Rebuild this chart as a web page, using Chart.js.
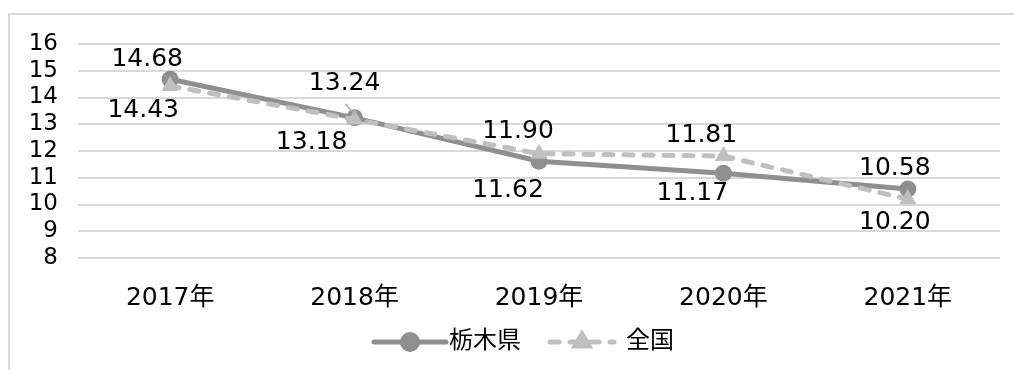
<!DOCTYPE html>
<html lang="ja">
<head>
<meta charset="utf-8">
<script src="https://cdn.jsdelivr.net/npm/chart.js@4/dist/chart.umd.min.js"></script>
<style>
  html, body { margin: 0; padding: 0; background: #fff; }
  #wrap { position: relative; width: 1014px; height: 370px; }
</style>
</head>
<body>
<div id="wrap"><canvas id="trendChart" width="1014" height="370"></canvas></div>
<script>
// 年ごとの値
const years = ['2017年', '2018年', '2019年', '2020年', '2021年'];
const tochigi = [14.68, 13.24, 11.62, 11.17, 10.58];
const zenkoku = [14.43, 13.18, 11.90, 11.81, 10.20];
const seriesNames = ['栃木県', '全国'];

const yMin = 8, yMax = 16;

const FONT = '"DejaVu Sans", "Noto Sans CJK JP", sans-serif';
const darkGray = '#8f8f8f';
const lightGray = '#bfbfbf';

// ラベル位置の微調整 [上ラベルdx, 上ラベルdy, 下ラベルdx, 下ラベルdy]
const labelNudge = [
  [-23, -20, -27, 25],
  [-10, -34, -43, 23],
  [-21, -22, -31, 29],
  [-22, -21, -31, 20],
  [-13, -20, -13, 23]
];

// 外枠
const frame = {
  id: 'frame',
  beforeDraw(chart) {
    const c = chart.ctx;
    c.save();
    c.fillStyle = '#fff';
    c.fillRect(0, 0, chart.width, chart.height);
    c.strokeStyle = '#d9d9d9';
    c.lineWidth = 2;
    c.strokeRect(9, 14, chart.width + 20, chart.height + 20);
    c.restore();
  }
};

// 値ラベル：同じ年で大きい方を上、小さい方を下に
const valueLabels = {
  id: 'valueLabels',
  afterDatasetsDraw(chart) {
    const c = chart.ctx;
    const metaA = chart.getDatasetMeta(0);
    const metaB = chart.getDatasetMeta(1);
    c.save();
    c.font = '25px ' + FONT;
    c.fillStyle = '#000';
    c.textAlign = 'center';
    c.textBaseline = 'middle';
    years.forEach((y, i) => {
      const a = metaA.data[i], b = metaB.data[i];
      const aHigh = tochigi[i] >= zenkoku[i];
      const hi = aHigh ? a : b, lo = aHigh ? b : a;
      const hiVal = aHigh ? tochigi[i] : zenkoku[i];
      const loVal = aHigh ? zenkoku[i] : tochigi[i];
      const n = labelNudge[i];
      const hx = hi.x + n[0], hy = hi.y + n[1];
      // 離れたラベルには引き出し線
      if (hi.y - hy > 30) {
        c.strokeStyle = '#a6a6a6';
        c.lineWidth = 1.5;
        c.beginPath();
        c.moveTo(hi.x - 9, hy + 20);
        c.lineTo(hi.x, hi.y - 3);
        c.stroke();
      }
      c.fillText(hiVal.toFixed(2), hx, hy);
      c.fillText(loVal.toFixed(2), lo.x + n[2], lo.y + n[3]);
    });
    c.restore();
  }
};

// 凡例（線＋マーカー）
const lineLegend = {
  id: 'lineLegend',
  afterDraw(chart) {
    const c = chart.ctx;
    const ly = 342;
    const items = [
      { x: 374, len: 72, gap: 3, color: darkGray, dash: [], marker: 'circle', text: seriesNames[0] },
      { x: 550, len: 64, gap: 12, color: lightGray, dash: [9, 11], marker: 'triangle', text: seriesNames[1] }
    ];
    c.save();
    c.font = '24px ' + FONT;
    c.textBaseline = 'middle';
    items.forEach(it => {
      c.strokeStyle = it.color;
      c.lineWidth = 5;
      c.lineCap = 'round';
      c.setLineDash(it.dash);
      c.beginPath();
      c.moveTo(it.x, ly);
      c.lineTo(it.x + it.len, ly);
      c.stroke();
      c.setLineDash([]);
      Chart.helpers.drawPoint(c, {
        pointStyle: it.marker, radius: it.marker === 'circle' ? 7.5 : 8, rotation: 0,
        borderWidth: 1
      }, it.x + it.len / 2, ly);
      c.fillStyle = it.color;
      c.fill();
      c.fillStyle = '#000';
      c.fillText(it.text, it.x + it.len + it.gap, ly);
    });
    c.restore();
  }
};

new Chart(document.getElementById('trendChart'), {
  type: 'line',
  data: {
    labels: years,
    datasets: [
      {
        label: seriesNames[0],
        data: tochigi,
        order: 1,
        borderColor: darkGray,
        backgroundColor: darkGray,
        borderWidth: 5,
        pointStyle: 'circle',
        pointRadius: 8.5,
        pointBorderWidth: 0,
        pointBackgroundColor: darkGray,
        tension: 0
      },
      {
        label: seriesNames[1],
        data: zenkoku,
        order: 0,
        borderColor: lightGray,
        backgroundColor: lightGray,
        borderWidth: 5,
        borderDash: [9, 11],
        borderCapStyle: 'round',
        pointStyle: 'triangle',
        pointRadius: 10,
        pointBorderWidth: 0,
        pointBackgroundColor: lightGray,
        tension: 0
      }
    ]
  },
  options: {
    responsive: false,
    animation: false,
    layout: { padding: { top: 44, right: 14, left: 0, bottom: 0 } },
    plugins: {
      legend: { display: false },
      tooltip: { enabled: false }
    },
    scales: {
      x: {
        offset: true,
        grid: { display: false },
        border: { display: false },
        ticks: { color: '#000', font: { family: FONT, size: 25 }, padding: 17 },
        afterFit(scale) { scale.height = 112; }
      },
      y: {
        min: yMin,
        max: yMax,
        grid: { color: '#d9d9d9', lineWidth: 2, drawTicks: false },
        border: { display: false },
        ticks: { stepSize: 1, autoSkip: false, color: '#000', font: { family: FONT, size: 23, lineHeight: 1 }, padding: 20 },
        afterFit(scale) { scale.width = 78; }
      }
    }
  },
  plugins: [frame, valueLabels, lineLegend]
});
</script>
</body>
</html>
